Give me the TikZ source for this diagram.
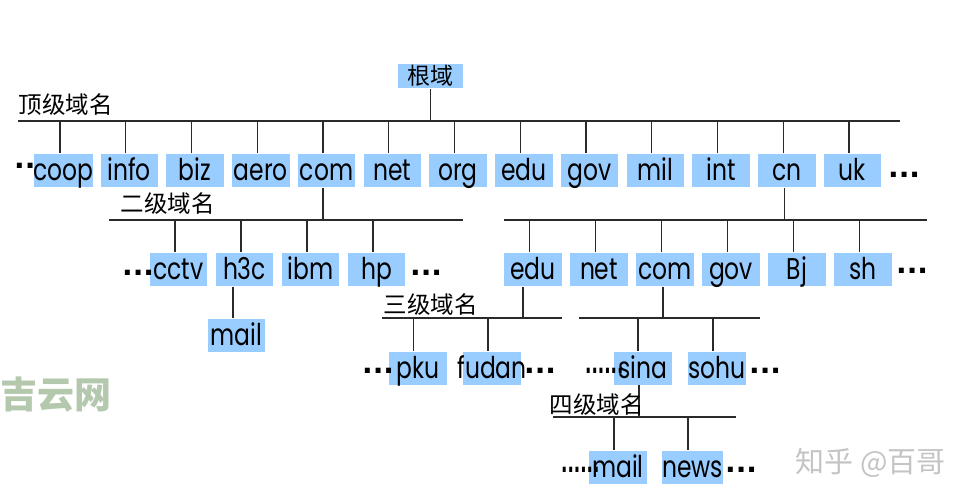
\documentclass[tikz,border=0pt]{standalone}
\usepackage{fontspec}
\setmainfont{Poppins}
\newfontfamily\domfont[FakeStretch=0.78]{Poppins}
\newfontfamily\cjk{Noto Sans CJK SC}
\newfontfamily\dotfont{DejaVu Sans}
\newfontfamily\densefont[FakeStretch=0.6]{DejaVu Sans}
\definecolor{boxblue}{HTML}{99CCFF}
\definecolor{linegray}{HTML}{2A2A2A}
\definecolor{markgreen}{HTML}{B4C8AE}
\definecolor{markgray}{HTML}{C4C4C4}

\begin{document}
\begin{tikzpicture}[x=1pt, y=-1pt, line width=1.3pt, draw=linegray,
	dom/.style={fill=boxblue, minimum width=57.5pt, minimum height=33pt, inner sep=0pt,
		text height=26pt, text depth=6pt, font=\fontsize{30}{30}\domfont},
	lvl/.style={anchor=base west, inner sep=0pt, font=\fontsize{23.5}{23.5}\cjk},
	dots/.style={anchor=base west, inner sep=0pt, font=\fontsize{28}{28}\dotfont\bfseries},
	densedots/.style={dots, font=\fontsize{28}{28}\densefont\bfseries}]
		\useasboundingbox (0,0) rectangle (970,500);
		
		%the root and the bus of the top level domains
		\node[dom, minimum width=65pt, minimum height=24pt, text height=20pt, text depth=2pt,
			font=\fontsize{23}{23}\cjk] (root) at (430.5,76) {根域};
		\coordinate (top-l) at (18,121);
		\coordinate (top-r) at (900,121);
		\draw (top-l) -- (top-r);
		\draw (root.south) -- (root.south |- top-l);
		\foreach \n [count=\i from 0] in {coop,info,biz,aero,com,net,org,edu,gov,mil,int,cn,uk} {
			\node[dom] (t-\n) at (63.5+65.75*\i,170.5) {\n};
			\draw ([xshift=-3.5pt]t-\n.north) -- ([xshift=-3.5pt]t-\n.north |- top-l);
		}
		
		%second level under com
		\coordinate (sl-l) at (109,220);
		\coordinate (sl-r) at (463,220);
		\draw (sl-l) -- (sl-r);
		\draw ([xshift=-3.5pt]t-com.south) -- ([xshift=-3.5pt]t-com.south |- sl-l);
		\foreach \n [count=\i from 0] in {cctv,h3c,ibm,hp} {
			\node[dom] (sl-\n) at (178.5+66*\i,269.5) {\n};
			\draw ([xshift=-3.5pt]sl-\n.north) -- ([xshift=-3.5pt]sl-\n.north |- sl-l);
		}
		\node[dom] (sl-mail) at (236.5,335.5) {mail};
		\draw ([xshift=-3.5pt]sl-mail.north) -- ([xshift=-3.5pt]sl-mail.north |- sl-h3c.south);
		
		%second level under cn
		\coordinate (sr-l) at (504,220);
		\coordinate (sr-r) at (927,220);
		\draw (sr-l) -- (sr-r);
		\draw ([xshift=-2pt]t-cn.south) -- ([xshift=-2pt]t-cn.south |- sr-l);
		\foreach \n [count=\i from 0] in {edu,net,com,gov,Bj,sh} {
			\node[dom] (sr-\n) at (533+66*\i,269.5) {\n};
			\draw ([xshift=-3.5pt]sr-\n.north) -- ([xshift=-3.5pt]sr-\n.north |- sr-l);
		}
		
		%third level under edu.cn
		\coordinate (tl-l) at (382,318);
		\coordinate (tl-r) at (562,318);
		\draw (tl-l) -- (tl-r);
		\draw ([xshift=-10pt]sr-edu.south) -- ([xshift=-10pt]sr-edu.south |- tl-l);
		\node[dom] (tl-pku) at (418,368) {pku};
		\node[dom] (tl-fudan) at (492,368) {\makebox[0pt]{fudan}};
		\draw ([xshift=-4.5pt]tl-pku.north) -- ([xshift=-4.5pt]tl-pku.north |- tl-l);
		\draw ([xshift=-4pt]tl-fudan.north) -- ([xshift=-4pt]tl-fudan.north |- tl-l);
		
		%third level under com.cn
		\coordinate (tr-l) at (579,318);
		\coordinate (tr-r) at (760,318);
		\draw (tr-l) -- (tr-r);
		\draw ([xshift=-2pt]sr-com.south) -- ([xshift=-2pt]sr-com.south |- tr-l);
		\node[dom] (tr-sina) at (643,368) {sina};
		\node[dom] (tr-sohu) at (717,368) {sohu};
		\draw ([xshift=-5pt]tr-sina.north) -- ([xshift=-5pt]tr-sina.north |- tr-l);
		\draw ([xshift=-4pt]tr-sohu.north) -- ([xshift=-4pt]tr-sohu.north |- tr-l);
		
		%fourth level under sina.com.cn
		\coordinate (fr-l) at (553,417);
		\coordinate (fr-r) at (736,417);
		\draw (fr-l) -- (fr-r);
		\draw ([xshift=-4pt]tr-sina.south) -- ([xshift=-4pt]tr-sina.south |- fr-l);
		\node[dom] (fr-mail) at (618,467) {mail};
		\node[dom] (fr-news) at (692.5,467) {news};
		\draw ([xshift=-4pt]fr-mail.north) -- ([xshift=-4pt]fr-mail.north |- fr-l);
		\draw ([xshift=-4.5pt]fr-news.north) -- ([xshift=-4.5pt]fr-news.north |- fr-l);
		
		%names of the levels
		\node[lvl] at (18,114) {顶级域名};
		\node[lvl] at (120,212) {二级域名};
		\node[lvl] at (383,313) {三级域名};
		\node[lvl] at (549,413) {四级域名};
		
		%the dots for the domains left out
		\node[dots] at (13.5,168.2) {..};
		\node[dots] at (887.5,177.2) {...};
		\node[dots] at (121.5,275.7) {...};
		\node[dots] at (409.5,275.7) {...};
		\node[dots] at (895.5,273.7) {...};
		\node[dots] at (361.5,373.7) {...};
		\node[dots] at (523.5,373.7) {...};
		\node[densedots] at (584.5,373.7) {......};
		\node[dots] at (748.5,373.7) {...};
		\node[densedots] at (560.5,472.7) {......};
		\node[dots] at (724.5,472.7) {...};
		
		%watermarks
		\node[anchor=base west, inner sep=0pt, text=markgreen, font=\fontsize{37}{37}\cjk\bfseries] at (0,408) {吉云网};
		\node[anchor=base west, inner sep=0pt, text=markgray, font=\fontsize{29}{29}\cjk] at (795,472) {知乎 @百哥};
	\end{tikzpicture}
\end{document}
